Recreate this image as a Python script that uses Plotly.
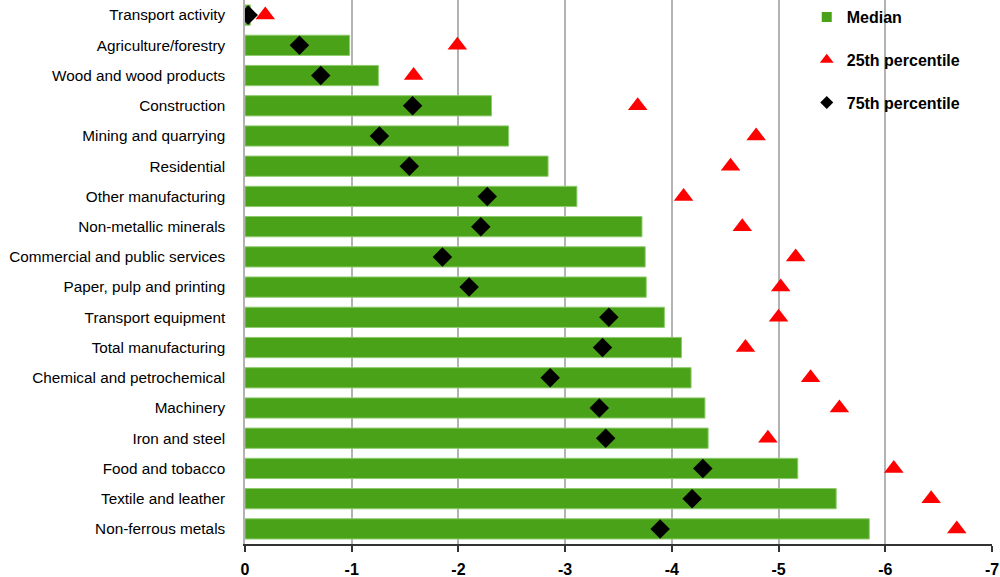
import plotly.graph_objects as go

categories = ["Transport activity", "Agriculture/forestry", "Wood and wood products", "Construction",
              "Mining and quarrying", "Residential", "Other manufacturing", "Non-metallic minerals",
              "Commercial and public services", "Paper, pulp and printing", "Transport equipment",
              "Total manufacturing", "Chemical and petrochemical", "Machinery", "Iron and steel",
              "Food and tobacco", "Textile and leather", "Non-ferrous metals"]
median = [-0.05, -0.98, -1.25, -2.31, -2.47, -2.84, -3.11, -3.72, -3.75, -3.76, -3.93, -4.09,
          -4.18, -4.31, -4.34, -5.18, -5.54, -5.85]
p25 = [-0.19, -1.99, -1.58, -3.68, -4.79, -4.55, -4.11, -4.66, -5.16, -5.02, -5.00, -4.69,
       -5.30, -5.57, -4.90, -6.08, -6.43, -6.67]
p75 = [-0.03, -0.51, -0.71, -1.57, -1.26, -1.54, -2.27, -2.21, -1.85, -2.10, -3.41, -3.35,
       -2.86, -3.32, -3.38, -4.29, -4.19, -3.89]
x_ticks = [0, -1, -2, -3, -4, -5, -6, -7]

FONT = "Liberation Sans, Arial, sans-serif"
GREEN = "#4aa219"

fig = go.Figure()
fig.add_trace(go.Bar(y=categories, x=median, orientation="h", name="Median",
                     marker=dict(color=GREEN, line=dict(color="#8fcb6e", width=1)),
                     showlegend=False))
fig.add_trace(go.Scatter(y=categories, x=p25, mode="markers", name="25th percentile",
                         marker=dict(symbol="triangle-up", size=17, color="#ff0000"),
                         showlegend=False))
fig.add_trace(go.Scatter(y=categories, x=p75, mode="markers", name="75th percentile",
                         marker=dict(symbol="diamond", size=15, color="#000000"),
                         showlegend=False))
# legend entries (smaller symbols as in the reference)
fig.add_trace(go.Scatter(x=[None], y=[None], mode="markers", name="Median", legendgroup="a",
                         marker=dict(symbol="square", size=10, color=GREEN)))
fig.add_trace(go.Scatter(x=[None], y=[None], mode="markers", name="25th percentile", legendgroup="b",
                         marker=dict(symbol="triangle-up", size=12, color="#ff0000")))
fig.add_trace(go.Scatter(x=[None], y=[None], mode="markers", name="75th percentile", legendgroup="c",
                         marker=dict(symbol="diamond", size=10, color="#000000")))

fig.update_layout(
    width=1000, height=577,
    margin=dict(l=245, r=8, t=0, b=33),
    plot_bgcolor="white", paper_bgcolor="white",
    font=dict(family=FONT, color="black"),
    bargap=0.33,
    showlegend=True,
    legend=dict(x=0.752, y=1.0, xanchor="left", yanchor="top", bgcolor="rgba(0,0,0,0)",
                traceorder="grouped", tracegroupgap=19,
                font=dict(size=16, family=FONT, weight="bold"),
                itemwidth=30),
    xaxis=dict(range=[0, -7], tickvals=x_ticks, ticktext=[str(v) for v in x_ticks],
               showgrid=True, gridcolor="#b3b3b3", gridwidth=1.5,
               zeroline=False, showline=True, linecolor="#333333", linewidth=1.5,
               ticks="outside", ticklen=6, tickcolor="#333333", tickwidth=1.5,
               tickfont=dict(size=16, weight="bold"), ticklabelstandoff=4, automargin=False),
    yaxis=dict(categoryorder="array", categoryarray=categories, range=[17.5, -0.5],
               showgrid=False, zeroline=False, showline=True, linecolor="#b3b3b3", linewidth=1.5,
               ticks="", tickfont=dict(size=15.3), ticklabelstandoff=15, automargin=False),
)

fig.write_html("out.html")
